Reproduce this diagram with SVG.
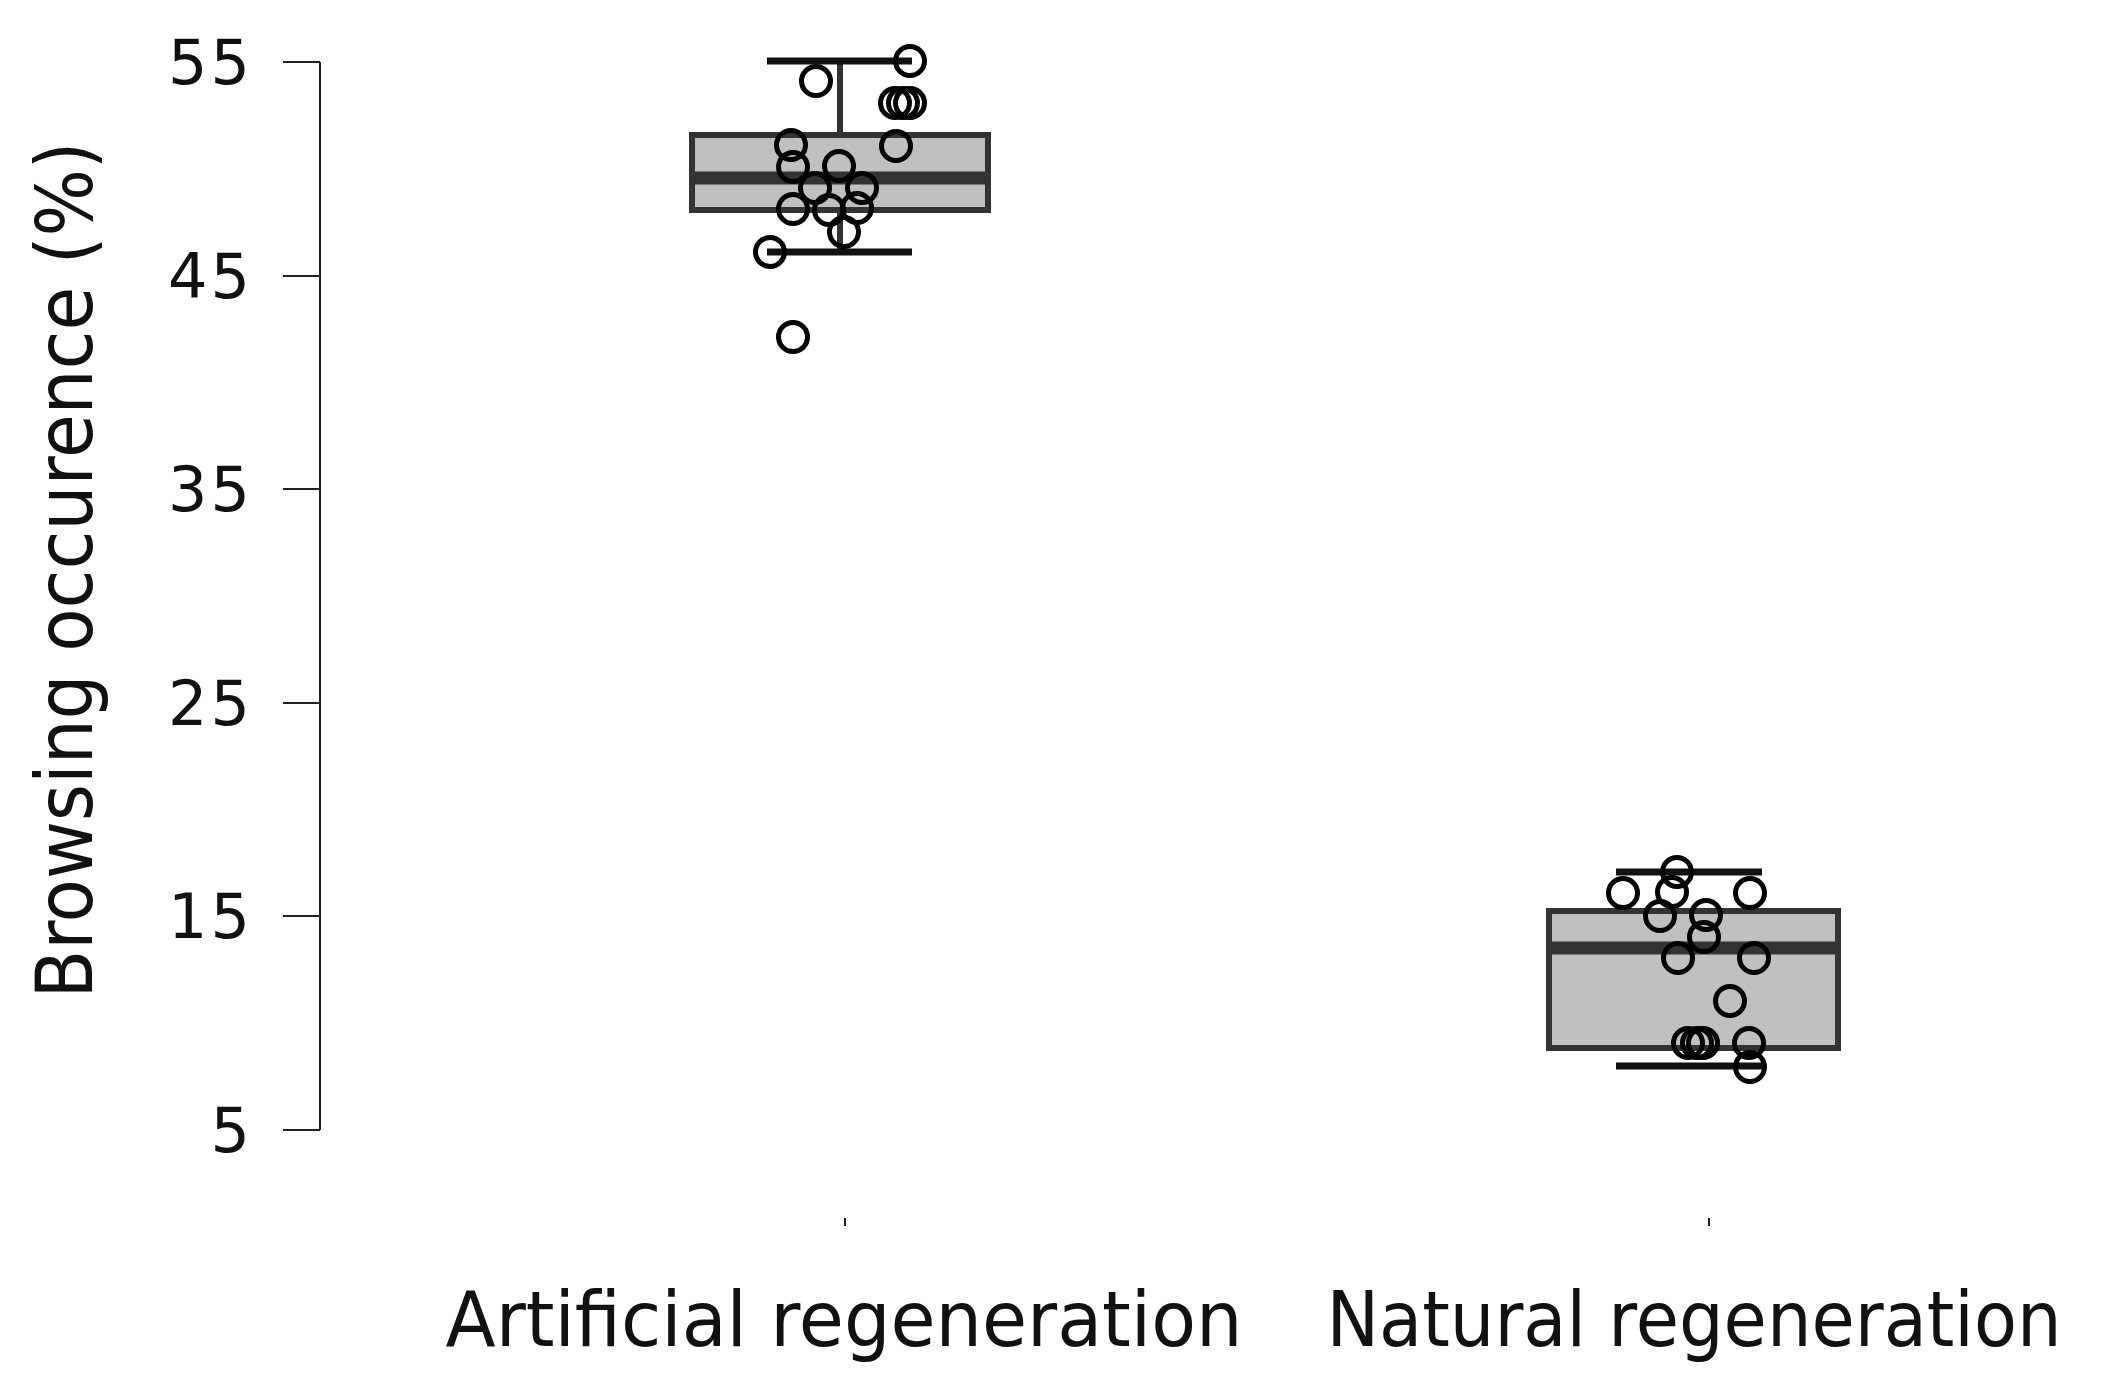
<svg xmlns="http://www.w3.org/2000/svg" width="2106" height="1393" viewBox="0 0 2106 1393">
<style>
.ax{stroke:#222;stroke-width:2;fill:none}
.tl{font-family:"DejaVu Sans",sans-serif;font-size:62px;fill:#111;text-anchor:end}
.xl{font-family:"DejaVu Sans",sans-serif;font-size:76px;fill:#111;text-anchor:middle}
.box{fill:#c0c0c0;stroke:#333;stroke-width:6}
.med{stroke:#333;stroke-width:13}
.wh{stroke:#111;stroke-width:7}
.wv{stroke:#333;stroke-width:6}
.pt{fill:none;stroke:#000;stroke-width:5}
</style>
<rect width="2106" height="1393" fill="#fff"/>
<g id="yaxis">
<path class="ax" d="M320 62V1130M283 62H320M283 276H320M283 489H320M283 703H320M283 916H320M283 1130H320"/>
<text class="tl" x="250" y="84" textLength="82">55</text>
<text class="tl" x="250" y="298" textLength="82">45</text>
<text class="tl" x="250" y="511" textLength="82">35</text>
<text class="tl" x="250" y="725" textLength="82">25</text>
<text class="tl" x="250" y="938" textLength="82">15</text>
<text class="tl" x="250" y="1152">5</text>
<text font-family="'DejaVu Sans Condensed','DejaVu Sans',sans-serif" font-size="78" fill="#111" text-anchor="middle" transform="translate(92,570) rotate(-90)" textLength="857" lengthAdjust="spacingAndGlyphs">Browsing occurence (%)</text>
</g>
<g id="xaxis">
<path class="ax" d="M845 1218V1226M1709 1218V1226"/>
<text class="xl" x="844" y="1346" textLength="797" lengthAdjust="spacingAndGlyphs">Artificial regeneration</text>
<text class="xl" x="1694" y="1346" textLength="735" lengthAdjust="spacingAndGlyphs">Natural regeneration</text>
</g>
<g id="artificial">
<line class="wv" x1="840" y1="61" x2="840" y2="252"/>
<rect class="box" x="692" y="135" width="296" height="75"/>
<line class="med" x1="692" y1="178" x2="988" y2="178"/>
<line class="wh" x1="767" y1="61" x2="912" y2="61"/>
<line class="wh" x1="767" y1="252" x2="912" y2="252"/>
<g class="pt">
<circle cx="910" cy="61" r="14.5"/><circle cx="816" cy="81" r="14.5"/><circle cx="895" cy="103" r="14.5"/><circle cx="903" cy="103" r="14.5"/><circle cx="910" cy="103" r="14.5"/><circle cx="896" cy="146" r="14.5"/><circle cx="791" cy="145" r="14.5"/><circle cx="793" cy="167" r="14.5"/><circle cx="839" cy="166" r="14.5"/><circle cx="815" cy="188" r="14.5"/><circle cx="862" cy="188" r="14.5"/><circle cx="793" cy="209" r="14.5"/><circle cx="829" cy="210" r="14.5"/><circle cx="857" cy="208" r="14.5"/><circle cx="844" cy="232" r="14.5"/><circle cx="770" cy="252" r="14.5"/><circle cx="793" cy="337" r="14.5"/>
</g>
</g>
<g id="natural">
<rect class="box" x="1549" y="911" width="289" height="137"/>
<line class="med" x1="1549" y1="948" x2="1838" y2="948"/>
<line class="wh" x1="1616" y1="872" x2="1762" y2="872"/>
<line class="wh" x1="1616" y1="1066" x2="1762" y2="1066"/>
<g class="pt">
<circle cx="1677" cy="872" r="14.5"/><circle cx="1623" cy="893" r="14.5"/><circle cx="1672" cy="892" r="14.5"/><circle cx="1750" cy="893" r="14.5"/><circle cx="1660" cy="916" r="14.5"/><circle cx="1706" cy="915" r="14.5"/><circle cx="1704" cy="937" r="14.5"/><circle cx="1678" cy="958" r="14.5"/><circle cx="1754" cy="958" r="14.5"/><circle cx="1730" cy="1001" r="14.5"/><circle cx="1688" cy="1043" r="14.5"/><circle cx="1697" cy="1043" r="14.5"/><circle cx="1703" cy="1043" r="14.5"/><circle cx="1749" cy="1043" r="14.5"/><circle cx="1750" cy="1067" r="14.5"/>
</g>
</g>
</svg>
